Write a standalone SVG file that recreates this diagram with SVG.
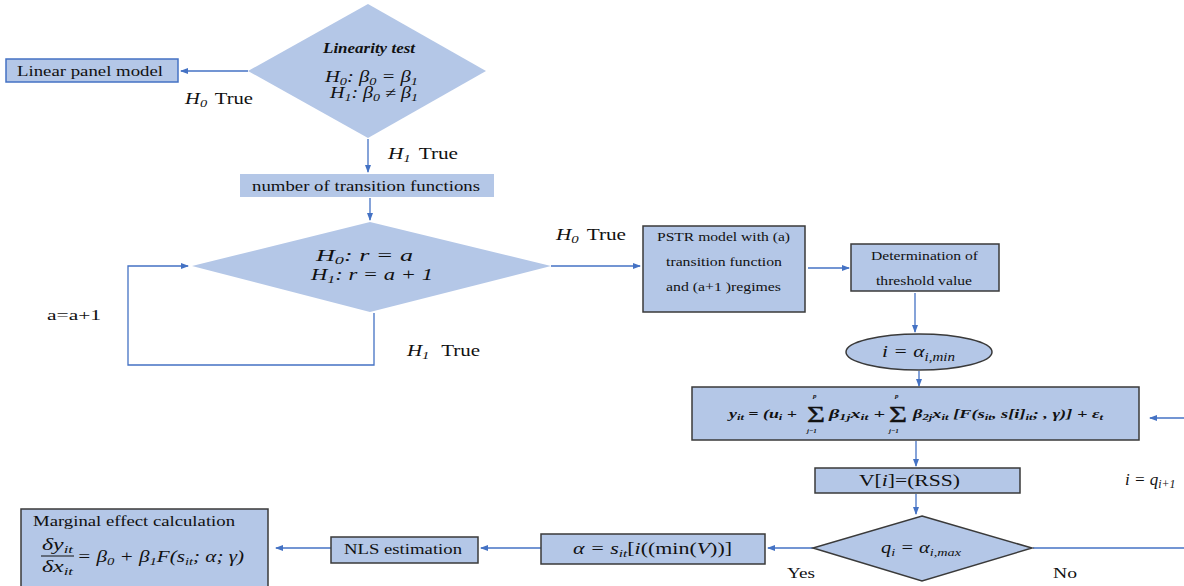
<svg xmlns="http://www.w3.org/2000/svg" width="1184" height="586" viewBox="0 0 1184 586">
<style>
.f{fill:#b4c7e7}
.b{fill:#b4c7e7;stroke:#3a3a3a;stroke-width:1.5}
.bb{fill:#b4c7e7;stroke:#4472c4;stroke-width:1.5}
.c{fill:none;stroke:#4472c4;stroke-width:1.3}
.t{font-family:"Liberation Serif",serif;fill:#111}
.m{font-family:"Liberation Serif",serif;font-style:italic;fill:#111}
.s{font-size:70%}
.eq{font-family:"Liberation Serif",serif;fill:#111}
.sig{font-family:"Liberation Serif",serif;fill:#111;font-size:24px;stroke:#111;stroke-width:0.4}
</style>
<defs>
<marker id="ah" markerWidth="8" markerHeight="8" refX="7" refY="4" orient="auto" markerUnits="userSpaceOnUse">
<path d="M0,1 L8,4 L0,7 Z" fill="#4472c4"/>
</marker>
</defs>
<rect width="1184" height="586" fill="#fff"/>

<g id="connectors">
<line class="c" x1="248" y1="71" x2="181" y2="71" marker-end="url(#ah)"/>
<line class="c" x1="368" y1="139" x2="368" y2="172" marker-end="url(#ah)"/>
<line class="c" x1="370" y1="198" x2="370" y2="220" marker-end="url(#ah)"/>
<polyline class="c" points="374,313 374,365 128,365 128,266 188,266" marker-end="url(#ah)"/>
<line class="c" x1="551" y1="266" x2="640" y2="266" marker-end="url(#ah)"/>
<line class="c" x1="808" y1="268" x2="849" y2="268" marker-end="url(#ah)"/>
<line class="c" x1="915" y1="293" x2="915" y2="332" marker-end="url(#ah)"/>
<line class="c" x1="919" y1="371" x2="919" y2="386" marker-end="url(#ah)"/>
<line class="c" x1="1184" y1="418" x2="1150" y2="418" marker-end="url(#ah)"/>
<line class="c" x1="916" y1="441" x2="916" y2="466" marker-end="url(#ah)"/>
<line class="c" x1="916" y1="494" x2="916" y2="514" marker-end="url(#ah)"/>
<line class="c" x1="1033" y1="548" x2="1184" y2="548"/>
<line class="c" x1="813" y1="548" x2="768" y2="548" marker-end="url(#ah)"/>
<line class="c" x1="541" y1="548" x2="481" y2="548" marker-end="url(#ah)"/>
<line class="c" x1="331" y1="548" x2="276" y2="548" marker-end="url(#ah)"/>
</g>

<g id="linear-panel">
<rect class="bb" x="6" y="59" width="172" height="23"/>
<text class="t" x="17" y="76" font-size="15" textLength="146" lengthAdjust="spacingAndGlyphs">Linear panel model</text>
</g>

<g id="labels">
<text class="m" x="185" y="104" font-size="16" textLength="68" lengthAdjust="spacingAndGlyphs">H<tspan class="s" dy="3">0</tspan><tspan dy="-3" style="font-style:normal" dx="6">True</tspan></text>
<text class="m" x="388" y="159" font-size="16" textLength="70" lengthAdjust="spacingAndGlyphs">H<tspan class="s" dy="3">1</tspan><tspan dy="-3" style="font-style:normal" dx="6">True</tspan></text>
<text class="t" x="47" y="320" font-size="15" textLength="54" lengthAdjust="spacingAndGlyphs">a=a+1</text>
<text class="m" x="407" y="356" font-size="16" textLength="73" lengthAdjust="spacingAndGlyphs">H<tspan class="s" dy="3">1</tspan><tspan dy="-3" style="font-style:normal" dx="9">True</tspan></text>
<text class="m" x="556" y="240" font-size="16" textLength="70" lengthAdjust="spacingAndGlyphs">H<tspan class="s" dy="3">0</tspan><tspan dy="-3" style="font-style:normal" dx="6">True</tspan></text>
<text class="m" x="1125" y="485" font-size="17">i = q<tspan class="s" dy="3">i+1</tspan></text>
<text class="t" x="787" y="578" font-size="15" textLength="28" lengthAdjust="spacingAndGlyphs">Yes</text>
<text class="t" x="1053" y="578" font-size="15" textLength="24" lengthAdjust="spacingAndGlyphs">No</text>
</g>

<g id="linearity-test">
<polygon class="f" points="368,4 486,71 368,138 248,71"/>
<text class="t" x="323" y="53" font-size="14" font-weight="bold" font-style="italic" textLength="92" lengthAdjust="spacingAndGlyphs">Linearity test</text>
<text class="m" x="325" y="82" font-size="16" textLength="93" lengthAdjust="spacingAndGlyphs">H<tspan class="s" dy="3">0</tspan><tspan dy="-3">: β</tspan><tspan class="s" dy="3">0</tspan><tspan dy="-3"> = β</tspan><tspan class="s" dy="3">1</tspan></text>
<text class="m" x="330" y="98" font-size="16" textLength="88" lengthAdjust="spacingAndGlyphs">H<tspan class="s" dy="3">1</tspan><tspan dy="-3">: β</tspan><tspan class="s" dy="3">0</tspan><tspan dy="-3"> ≠ β</tspan><tspan class="s" dy="3">1</tspan></text>
</g>

<g id="num-transition">
<rect class="f" x="240" y="174" width="254" height="23"/>
<text class="t" x="252" y="191" font-size="15" textLength="228" lengthAdjust="spacingAndGlyphs">number of transition functions</text>
</g>

<g id="regime-test">
<polygon class="f" points="370,222 551,266 370,312 192,266"/>
<text class="m" x="316" y="261" font-size="16" textLength="97" lengthAdjust="spacingAndGlyphs">H<tspan class="s" dy="3">0</tspan><tspan dy="-3">:   r = a</tspan></text>
<text class="m" x="311" y="280" font-size="16" textLength="122" lengthAdjust="spacingAndGlyphs">H<tspan class="s" dy="3">1</tspan><tspan dy="-3">: r = a + 1</tspan></text>
</g>

<g id="pstr-model">
<rect class="b" x="643" y="226" width="162" height="86"/>
<text class="t" x="657" y="241" font-size="13" textLength="133" lengthAdjust="spacingAndGlyphs">PSTR model with (a)</text>
<text class="t" x="666" y="266" font-size="13" textLength="116" lengthAdjust="spacingAndGlyphs">transition function</text>
<text class="t" x="666" y="291" font-size="13" textLength="115" lengthAdjust="spacingAndGlyphs">and (a+1 )regimes</text>
</g>

<g id="threshold">
<rect class="b" x="851" y="244" width="148" height="47"/>
<text class="t" x="871" y="260" font-size="13" textLength="107" lengthAdjust="spacingAndGlyphs">Determination of</text>
<text class="t" x="876" y="285" font-size="13" textLength="96" lengthAdjust="spacingAndGlyphs">threshold value</text>
</g>

<g id="i-min">
<ellipse class="b" cx="919" cy="352" rx="73" ry="18"/>
<text class="m" x="882" y="357" font-size="17" textLength="73" lengthAdjust="spacingAndGlyphs">i = α<tspan class="s" dy="4">i,min</tspan></text>
</g>

<g id="pstr-equation">
<rect class="b" x="692" y="387" width="447" height="53"/>
<text class="eq" x="729" y="418" font-size="13" font-weight="bold" font-style="italic" textLength="68" lengthAdjust="spacingAndGlyphs">y<tspan class="s" dy="2">it</tspan><tspan dy="-2"> = (u</tspan><tspan class="s" dy="2">i</tspan><tspan dy="-2"> +</tspan></text>
<text class="sig" x="807" y="422" textLength="18" lengthAdjust="spacingAndGlyphs">Σ</text>
<text class="eq" x="813" y="398" font-size="7" font-weight="bold" font-style="italic">p</text>
<text class="eq" x="807" y="433" font-size="7" font-weight="bold" font-style="italic">j−1</text>
<text class="eq" x="829" y="418" font-size="13" font-weight="bold" font-style="italic" textLength="56" lengthAdjust="spacingAndGlyphs">β<tspan class="s" dy="2">1j</tspan><tspan dy="-2">x</tspan><tspan class="s" dy="2">it</tspan><tspan dy="-2"> +</tspan></text>
<text class="sig" x="889" y="422" textLength="18" lengthAdjust="spacingAndGlyphs">Σ</text>
<text class="eq" x="895" y="398" font-size="7" font-weight="bold" font-style="italic">p</text>
<text class="eq" x="889" y="433" font-size="7" font-weight="bold" font-style="italic">j−1</text>
<text class="eq" x="913" y="418" font-size="13" font-weight="bold" font-style="italic" textLength="190" lengthAdjust="spacingAndGlyphs">β<tspan class="s" dy="2">2j</tspan><tspan dy="-2">x</tspan><tspan class="s" dy="2">it</tspan><tspan dy="-2"> [F(s</tspan><tspan class="s" dy="2">it</tspan><tspan dy="-2">, s[i]</tspan><tspan class="s" dy="2">it</tspan><tspan dy="-2">; , γ)] + ε</tspan><tspan class="s" dy="2">t</tspan></text>
</g>

<g id="rss">
<rect class="b" x="815" y="468" width="205" height="25"/>
<text class="t" x="859" y="486" font-size="16" textLength="101" lengthAdjust="spacingAndGlyphs">V[<tspan font-style="italic">i</tspan>]=(RSS)</text>
</g>

<g id="q-max">
<polygon class="b" points="922,516 1032,548 922,581 813,548"/>
<text class="m" x="881" y="553" font-size="16" textLength="80" lengthAdjust="spacingAndGlyphs">q<tspan class="s" dy="3">i</tspan><tspan dy="-3"> = α</tspan><tspan class="s" dy="3">i,max</tspan></text>
</g>

<g id="alpha-min">
<rect class="b" x="541" y="534" width="224" height="30"/>
<text class="m" x="573" y="554" font-size="16" textLength="159" lengthAdjust="spacingAndGlyphs">α = s<tspan class="s" dy="3">it</tspan><tspan dy="-3" style="font-style:normal">[</tspan><tspan>i</tspan><tspan style="font-style:normal">((min(</tspan><tspan>V</tspan><tspan style="font-style:normal">))]</tspan></text>
</g>

<g id="nls">
<rect class="b" x="331" y="537" width="147" height="26"/>
<text class="t" x="344" y="554" font-size="15" textLength="118" lengthAdjust="spacingAndGlyphs">NLS estimation</text>
</g>

<g id="marginal-effect">
<rect class="b" x="21" y="509" width="247" height="80"/>
<text class="t" x="33" y="526" font-size="15" textLength="202" lengthAdjust="spacingAndGlyphs">Marginal effect calculation</text>
<text class="m" x="42" y="550" font-size="16" textLength="31" lengthAdjust="spacingAndGlyphs">δy<tspan class="s" dy="3">it</tspan></text>
<line x1="41" y1="556" x2="74" y2="556" stroke="#111" stroke-width="1"/>
<text class="m" x="42" y="572" font-size="16" textLength="31" lengthAdjust="spacingAndGlyphs">δx<tspan class="s" dy="3">it</tspan></text>
<text class="m" x="77" y="562" font-size="16" textLength="167" lengthAdjust="spacingAndGlyphs">= β<tspan class="s" dy="3">0</tspan><tspan dy="-3"> + β</tspan><tspan class="s" dy="3">1</tspan><tspan dy="-3">F(s</tspan><tspan class="s" dy="3">it</tspan><tspan dy="-3">; α; γ)</tspan></text>
</g>
</svg>
